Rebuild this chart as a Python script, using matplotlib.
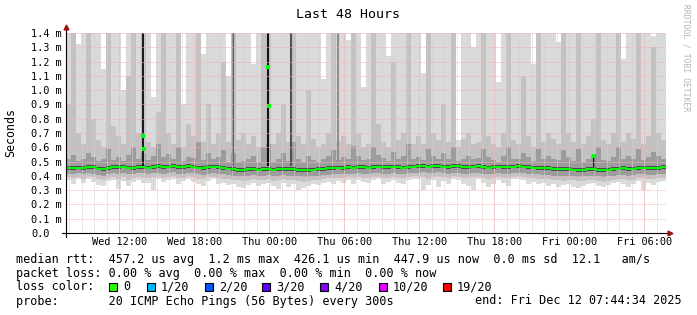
import numpy as np
import matplotlib.pyplot as plt
from matplotlib.patches import Rectangle

plt.rcParams['font.family'] = ['DejaVu Sans Mono']

# 120 steps of 24 min starting Wed 07:44:34, values in microseconds
step_h = 0.4

# median rtt
med = [452, 455, 458, 456, 462, 460, 450, 446, 455, 460,
       462, 465, 458, 455, 460, 462, 458, 463, 466, 462,
       465, 468, 462, 460, 466, 464, 458, 455, 462, 465,
       460, 455, 450, 445, 442, 440, 446, 448, 444, 446,
       448, 444, 446, 448, 445, 447, 442, 438, 440, 444,
       446, 448, 452, 455, 458, 456, 460, 458, 462, 460,
       458, 462, 464, 460, 462, 465, 462, 458, 462, 464,
       466, 468, 464, 466, 470, 465, 462, 468, 466, 462,
       460, 464, 466, 462, 458, 462, 464, 460, 462, 465,
       468, 464, 460, 458, 456, 454, 452, 448, 446, 445,
       448, 444, 440, 442, 445, 446, 442, 440, 444, 448,
       450, 452, 448, 450, 455, 458, 454, 452, 456, 460]

# smoke: outer (max/min) to inner bands
hi1 = [1500, 1500, 1320, 1500, 1500, 1500, 1500, 1150, 1500, 1500,
       1500, 1000, 1500, 1500, 1500, 1500, 1500, 950, 1500, 1500,
       1500, 1500, 1500, 900, 1500, 1500, 1500, 1250, 1500, 1500,
       1500, 1500, 1100, 1500, 1500, 1500, 1500, 1180, 1500, 1500,
       1500, 1500, 1500, 1500, 1500, 1260, 1500, 1500, 1500, 1500,
       1500, 1080, 1500, 1500, 1500, 1500, 1350, 1500, 1500, 1020,
       1500, 1500, 1500, 1500, 1240, 1500, 1500, 1500, 1500, 1500,
       1500, 1120, 1500, 1500, 1500, 1500, 1500, 1500, 650, 1500,
       1500, 1300, 1500, 1500, 1500, 1500, 1060, 1500, 1500, 1500,
       1500, 1500, 1500, 1180, 1500, 1500, 1500, 1500, 1340, 1500,
       1500, 1500, 1500, 1500, 1500, 1500, 1500, 1500, 1500, 1500,
       1500, 1220, 1500, 1500, 1500, 1500, 1500, 1380, 1500, 1500]
hi2 = [900, 1500, 700, 620, 1500, 800, 650, 600, 1500, 750,
       680, 620, 1100, 1500, 700, 1500, 640, 600, 850, 1500,
       700, 620, 1500, 600, 760, 680, 1500, 640, 900, 620,
       700, 1200, 640, 1500, 650, 700, 620, 680, 600, 1500,
       1500, 620, 700, 900, 640, 1500, 680, 620, 1000, 660,
       600, 620, 700, 1500, 640, 680, 620, 1500, 700, 600,
       620, 1500, 760, 640, 600, 1200, 650, 700, 1500, 620,
       680, 620, 1500, 700, 650, 900, 640, 1500, 600, 660,
       700, 620, 640, 1500, 680, 620, 600, 700, 1500, 650,
       620, 1100, 680, 600, 1500, 640, 700, 660, 620, 1500,
       700, 640, 1500, 620, 680, 800, 1500, 650, 620, 700,
       1500, 640, 700, 660, 1500, 620, 680, 1300, 700, 650]
hi3 = [520, 545, 505, 515, 560, 530, 505, 520, 585, 510,
       530, 505, 545, 600, 520, 560, 510, 540, 620, 530,
       550, 520, 600, 505, 530, 525, 640, 510, 560, 520,
       530, 580, 500, 560, 495, 505, 520, 540, 500, 600,
       620, 500, 520, 560, 505, 640, 520, 495, 540, 510,
       500, 515, 540, 580, 510, 530, 520, 610, 540, 510,
       520, 600, 545, 525, 505, 570, 520, 540, 620, 515,
       530, 510, 590, 540, 520, 560, 515, 600, 505, 520,
       540, 515, 525, 590, 530, 510, 500, 540, 600, 520,
       515, 560, 530, 505, 590, 520, 540, 515, 510, 580,
       530, 505, 590, 500, 520, 545, 600, 510, 505, 530,
       600, 520, 540, 515, 590, 510, 530, 570, 540, 515]
hi4 = [466, 470, 471, 470, 477, 473, 464, 461, 468, 474,
       476, 479, 472, 469, 474, 477, 471, 477, 480, 476,
       479, 482, 476, 474, 480, 478, 472, 469, 476, 479,
       474, 469, 464, 459, 456, 454, 460, 462, 458, 460,
       462, 458, 460, 462, 459, 461, 456, 452, 454, 458,
       460, 462, 466, 469, 472, 470, 474, 472, 476, 474,
       472, 476, 478, 474, 476, 479, 476, 472, 476, 478,
       480, 482, 478, 480, 484, 479, 476, 482, 480, 476,
       474, 478, 480, 476, 472, 476, 478, 474, 476, 479,
       482, 478, 474, 472, 470, 468, 466, 462, 460, 459,
       462, 458, 454, 456, 459, 460, 456, 454, 458, 462,
       464, 466, 462, 464, 469, 472, 468, 466, 470, 474]
lo4 = [440, 443, 446, 444, 450, 448, 438, 434, 443, 448,
       450, 453, 446, 443, 448, 450, 446, 451, 454, 450,
       453, 456, 450, 448, 454, 452, 446, 443, 450, 453,
       448, 443, 438, 433, 430, 428, 434, 436, 432, 434,
       436, 432, 434, 436, 433, 435, 430, 426, 428, 432,
       434, 436, 440, 443, 446, 444, 448, 446, 450, 448,
       446, 450, 452, 448, 450, 453, 450, 446, 450, 452,
       454, 456, 452, 454, 458, 453, 450, 456, 454, 450,
       448, 452, 454, 450, 446, 450, 452, 448, 450, 453,
       456, 452, 448, 446, 444, 442, 440, 436, 434, 433,
       436, 432, 428, 430, 433, 434, 430, 428, 432, 436,
       438, 440, 436, 438, 443, 446, 442, 440, 444, 448]
lo3 = [412, 415, 418, 410, 420, 416, 405, 400, 412, 418,
       416, 420, 410, 412, 418, 420, 414, 418, 422, 416,
       420, 424, 416, 414, 420, 418, 412, 408, 416, 420,
       414, 410, 404, 400, 398, 396, 402, 404, 400, 402,
       404, 398, 400, 404, 400, 402, 396, 392, 394, 398,
       400, 404, 408, 410, 414, 412, 416, 412, 418, 414,
       414, 418, 420, 414, 416, 420, 416, 412, 418, 420,
       422, 424, 418, 420, 426, 420, 416, 422, 420, 416,
       414, 418, 420, 416, 412, 416, 418, 414, 416, 420,
       422, 418, 414, 412, 410, 408, 406, 402, 400, 398,
       402, 398, 394, 396, 400, 402, 396, 394, 398, 402,
       404, 406, 402, 404, 410, 412, 408, 406, 410, 414]
lo2 = [392, 388, 395, 380, 398, 390, 375, 372, 388, 395,
       380, 392, 372, 385, 395, 388, 382, 390, 398, 385,
       395, 400, 385, 388, 396, 390, 380, 375, 390, 395,
       385, 380, 375, 370, 368, 365, 372, 378, 370, 372,
       375, 365, 370, 376, 368, 372, 362, 358, 362, 368,
       370, 376, 382, 385, 388, 384, 390, 382, 392, 386,
       386, 392, 395, 385, 388, 395, 388, 382, 392, 396,
       398, 392, 380, 395, 400, 392, 385, 396, 392, 386,
       382, 390, 395, 388, 380, 386, 392, 385, 388, 395,
       398, 392, 386, 384, 380, 378, 375, 370, 368, 366,
       372, 368, 362, 365, 370, 372, 364, 360, 366, 372,
       375, 378, 370, 374, 382, 385, 378, 375, 382, 386]
lo1 = [370, 345, 380, 352, 375, 360, 335, 330, 362, 372,
       310, 365, 330, 358, 372, 350, 348, 300, 375, 355,
       372, 380, 340, 362, 375, 355, 345, 330, 365, 375,
       340, 352, 335, 345, 320, 315, 338, 350, 328, 340,
       348, 330, 310, 352, 325, 345, 300, 318, 330, 340,
       335, 352, 360, 340, 365, 350, 370, 342, 372, 355,
       350, 370, 375, 345, 360, 372, 352, 340, 370, 378,
       380, 300, 335, 372, 320, 365, 340, 375, 372, 345,
       330, 300, 375, 352, 320, 345, 372, 350, 330, 375,
       380, 368, 345, 355, 340, 350, 332, 345, 320, 335,
       340, 325, 315, 330, 345, 350, 328, 320, 335, 348,
       355, 340, 320, 345, 362, 300, 350, 335, 360, 365]

# columns where all pings were high (hours since start, ms)
spike_t = [6.16, 13.36, 16.16, 18.0, 21.76, 42.24]
spike_bot = [0.47, 0.47, 0.47, 0.47, 0.49, 0.46]
spike_top = [1.4, 1.4, 1.4, 1.4, 1.4, 0.555]
spike_col = ['#1c1c1c', '#606060', '#101010', '#505050', '#8c8c8c', '#1a1a1a']

# isolated median points
dot_t = [6.18, 6.26, 16.18, 16.26, 42.24]
dot_v = [0.68, 0.59, 1.165, 0.89, 0.54]

label_t = [4.257, 10.257, 16.257, 22.257, 28.257, 34.257, 40.257, 46.257]
label_txt = ['Wed 12:00', 'Wed 18:00', 'Thu 00:00', 'Thu 06:00',
             'Thu 12:00', 'Thu 18:00', 'Fri 00:00', 'Fri 06:00']
hour_t = [0.257 + h for h in range(48)]

loss_labels = ['0', '1/20', '2/20', '3/20', '4/20', '10/20', '19/20']
loss_colors = ['#26ff00', '#00b8ff', '#0059ff', '#5e00ff', '#7e00ff', '#dd00ff', '#ff0000']

W, H = 697, 315
fig = plt.figure(figsize=(W / 100, H / 100), dpi=100)
ax = fig.add_axes([66 / W, 82 / H, 600 / W, 200 / H])

t = np.arange(len(med) + 1) * step_h


def edge(v):
    v = np.asarray(v, dtype=float) / 1000.0
    return np.append(v, v[-1])


bands = [(lo1, hi1, '#dadada'), (lo2, hi2, '#c2c2c2'),
         (lo3, hi3, '#9c9c9c'), (lo4, hi4, '#4a4a4a')]
for lo, hi, c in bands:
    ax.fill_between(t, edge(lo), edge(hi), step='post', color=c, linewidth=0, zorder=1)

ax.vlines(spike_t, spike_bot, spike_top, colors=spike_col, linewidth=1.5, zorder=1.5)

# dotted grid on top of the smoke
dots = (0, (1, 1))
for h in hour_t:
    ax.axvline(h, color='#d2d2d2', lw=0.72, ls=dots, zorder=2.5)
for h in label_t:
    ax.axvline(h, color='#f0b4b4', lw=0.72, ls=dots, zorder=2.6)
for v in np.arange(1, 15) * 0.1:
    ax.axhline(v, color='#f0b4b4', lw=0.72, ls=dots, zorder=2.6)

ax.step(t, edge(med), where='post', color='#00ff00', lw=1.4, zorder=4)
ax.plot(dot_t, dot_v, 's', color='#00ff00', ms=2.2, mew=0, zorder=4)

ax.set_xlim(0, 48)
ax.set_ylim(0, 1.4)
for s in ax.spines.values():
    s.set_visible(False)

yt = np.arange(15) * 0.1
ax.set_yticks(yt)
ax.set_yticklabels(['0.0'] + ['%.1f m' % v for v in yt[1:]])
ax.tick_params(axis='y', length=0, pad=25, labelsize=7.4)
for lab in ax.get_yticklabels():
    lab.set_horizontalalignment('left')
ax.set_xticks(label_t)
ax.set_xticklabels(label_txt)
ax.tick_params(axis='x', length=0, pad=3, labelsize=7.4)

# axes with arrows
ax.plot([0, 0], [-0.028, 1.44], color='black', lw=0.8, clip_on=False, zorder=5)
ax.plot([-0.32, 48.3], [0, 0], color='black', lw=0.8, clip_on=False, zorder=5)
ax.plot([0], [1.445], marker='^', color='#a01010', ms=3.5, clip_on=False, zorder=6)
ax.plot([48.35], [0], marker='>', color='#a01010', ms=3.5, clip_on=False, zorder=6)

fig.text(348 / W, 1 - 14 / H, 'Last 48 Hours', ha='center', va='center', fontsize=9.5)
fig.text(11 / W, 1 - 132 / H, 'Seconds', rotation=90, ha='center', va='center', fontsize=8.4)
fig.text(686 / W, 1 - 4 / H, 'RRDTOOL / TOBI OETIKER', rotation=270, ha='center', va='top',
         fontsize=5.8, color='#b4b4b4')

lf = 8.46
fig.text(16 / W, 1 - 259 / H,
         'median rtt:  457.2 us avg  1.2 ms max  426.1 us min  447.9 us now  0.0 ms sd  12.1   am/s',
         ha='left', va='center', fontsize=lf)
fig.text(16 / W, 1 - 273 / H,
         'packet loss: 0.00 % avg  0.00 % max  0.00 % min  0.00 % now',
         ha='left', va='center', fontsize=lf)
fig.text(16 / W, 1 - 287 / H, 'loss color:', ha='left', va='center', fontsize=lf)
box_x = [109, 147, 205, 262, 320, 379, 443]
for bx, lab, c in zip(box_x, loss_labels, loss_colors):
    fig.patches.append(Rectangle((bx / W, 1 - 291 / H), 8 / W, 8 / H, transform=fig.transFigure,
                                 facecolor=c, edgecolor='black', lw=0.8))
    fig.text((bx + 14) / W, 1 - 287 / H, lab, ha='left', va='center', fontsize=lf)
fig.text(16 / W, 1 - 301 / H, 'probe:       20 ICMP Echo Pings (56 Bytes) every 300s',
         ha='left', va='center', fontsize=lf)
fig.text(682 / W, 1 - 301 / H, 'end: Fri Dec 12 07:44:34 2025', ha='right', va='center', fontsize=lf)

fig.savefig('out.png', dpi=100, facecolor='white')
